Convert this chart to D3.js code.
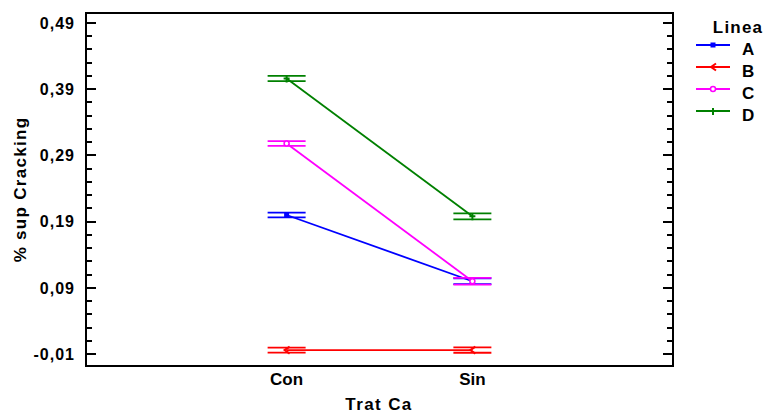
<!DOCTYPE html>
<html>
<head>
<meta charset="utf-8">
<script src="https://cdn.jsdelivr.net/npm/d3@7"></script>
<style>
  body { margin: 0; background: #fff; }
  text { font-family: "Liberation Sans", Arial, sans-serif; font-weight: bold; fill: #000; }
</style>
</head>
<body>
<div id="chart"></div>
<script>
// data
var categories = ["Con", "Sin"];
var series = ["A", "B", "C", "D"];
var colors = ["#0000ff", "#ff0000", "#ff00ff", "#008000"];
var meansA = [0.200, 0.100];
var meansB = [-0.004, -0.004];
var meansC = [0.308, 0.100];
var meansD = [0.406, 0.198];
var halfA = [0.0035, 0.0045];
var halfB = [0.0037, 0.0040];
var halfC = [0.0035, 0.0050];
var halfD = [0.0040, 0.0045];
var yTicks = [-0.01, 0.09, 0.19, 0.29, 0.39, 0.49];

var means = [meansA, meansB, meansC, meansD];
var halves = [halfA, halfB, halfC, halfD];

var width = 765, height = 417;
var pLeft = 86, pRight = 673, pTop = 13, pBottom = 366;

var svg = d3.select("#chart").append("svg")
    .attr("width", width)
    .attr("height", height);

var x = d3.scalePoint().domain(categories).range([pLeft, pRight]).padding(1.08);
var y = d3.scaleLinear().domain([-0.028, 0.505]).range([pBottom, pTop]);

function isMajor(d) {
    return yTicks.some(function (t) { return Math.abs(t - d) < 1e-6; });
}

// minor ticks every 0.02
var minor = d3.range(0, 26).map(function (i) { return -0.01 + i * 0.02; })
    .filter(function (v) { return y(v) > pTop + 1; });

var axes = svg.append("g");
axes.selectAll("line.tl").data(minor).enter().append("line")
    .attr("x1", pLeft).attr("x2", function (d) { return pLeft + (isMajor(d) ? 10 : 6); })
    .attr("y1", function (d) { return Math.round(y(d)); })
    .attr("y2", function (d) { return Math.round(y(d)); })
    .attr("stroke", "#000").attr("stroke-width", 2);
axes.selectAll("line.tr").data(minor).enter().append("line")
    .attr("x1", pRight).attr("x2", function (d) { return pRight - (isMajor(d) ? 10 : 6); })
    .attr("y1", function (d) { return Math.round(y(d)); })
    .attr("y2", function (d) { return Math.round(y(d)); })
    .attr("stroke", "#000").attr("stroke-width", 2);

axes.append("rect")
    .attr("x", pLeft).attr("y", pTop)
    .attr("width", pRight - pLeft).attr("height", pBottom - pTop)
    .attr("fill", "none").attr("stroke", "#000").attr("stroke-width", 2);

axes.selectAll("text.ytick").data(yTicks).enter().append("text")
    .attr("x", pLeft - 11)
    .attr("y", function (d) { return y(d); })
    .attr("dy", "0.36em")
    .attr("text-anchor", "end")
    .style("font-size", "16px")
    .style("letter-spacing", "1px")
    .text(function (d) { return d3.format(".2f")(d).replace(".", ",").replace("\u2212", "-"); });

axes.selectAll("text.xtick").data(categories).enter().append("text")
    .attr("x", function (d) { return x(d); })
    .attr("y", 385)
    .attr("text-anchor", "middle")
    .style("font-size", "17px")
    .text(function (d) { return d; });

svg.append("text")
    .attr("x", 379).attr("y", 410)
    .attr("text-anchor", "middle")
    .style("font-size", "17px")
    .style("letter-spacing", "1.4px")
    .text("Trat Ca");

svg.append("text")
    .attr("transform", "translate(26," + ((pTop + pBottom) / 2) + ") rotate(-90)")
    .attr("text-anchor", "middle")
    .style("font-size", "17px")
    .style("letter-spacing", "1.3px")
    .text("% sup Cracking");

function marker(g, i, cx, cy, c) {
    if (i === 0) {
        g.append("rect").attr("x", cx - 2.5).attr("y", cy - 2.5).attr("width", 5).attr("height", 5).attr("fill", c);
    } else if (i === 1) {
        g.append("path").attr("d", "M" + (cx + 3) + "," + (cy - 3.5) + "L" + (cx - 2) + "," + cy + "L" + (cx + 3) + "," + (cy + 3.5))
            .attr("fill", "none").attr("stroke", c).attr("stroke-width", 2);
    } else if (i === 2) {
        g.append("circle").attr("cx", cx).attr("cy", cy).attr("r", 2.5).attr("fill", "#fff").attr("stroke", c).attr("stroke-width", 1.5);
    } else {
        g.append("path").attr("d", "M" + (cx - 3) + "," + cy + "H" + (cx + 3) + "M" + cx + "," + (cy - 3) + "V" + (cy + 4))
            .attr("fill", "none").attr("stroke", c).attr("stroke-width", 2);
    }
}

var plot = svg.append("g");
series.forEach(function (name, i) {
    var c = colors[i];
    var g = plot.append("g");
    // interval caps
    categories.forEach(function (cat, j) {
        [means[i][j] - halves[i][j], means[i][j] + halves[i][j]].forEach(function (v) {
            g.append("line")
                .attr("x1", x(cat) - 19).attr("x2", x(cat) + 19)
                .attr("y1", y(v)).attr("y2", y(v))
                .attr("stroke", c).attr("stroke-width", 1.8);
        });
    });
    var line = d3.line()
        .x(function (d, j) { return x(categories[j]); })
        .y(function (d) { return y(d); });
    g.append("path").datum(means[i]).attr("d", line)
        .attr("fill", "none").attr("stroke", c).attr("stroke-width", 1.8);
    categories.forEach(function (cat, j) {
        marker(g, i, x(cat), y(means[i][j]), c);
    });
});

// legend
var legend = svg.append("g");
legend.append("text").attr("x", 738).attr("y", 33).attr("text-anchor", "middle")
    .style("font-size", "17px").style("letter-spacing", "1.2px").text("Linea");
series.forEach(function (name, i) {
    var ly = 45 + i * 22;
    legend.append("line").attr("x1", 696).attr("x2", 730).attr("y1", ly).attr("y2", ly)
        .attr("stroke", colors[i]).attr("stroke-width", 1.8);
    marker(legend, i, 713, ly, colors[i]);
    legend.append("text").attr("x", 742).attr("y", ly + 10)
        .style("font-size", "17px").text(name);
});
</script>
</body>
</html>
